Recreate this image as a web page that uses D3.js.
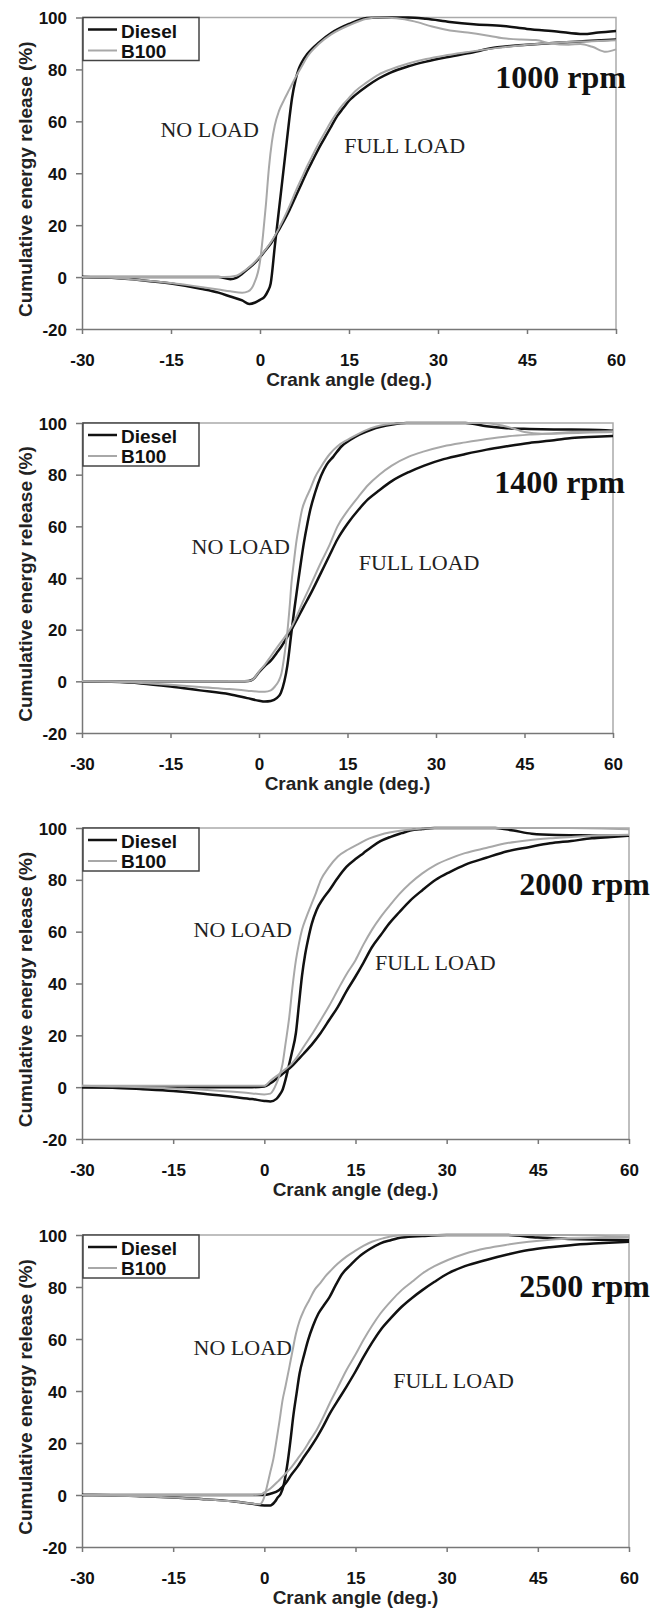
<!DOCTYPE html>
<html>
<head>
<meta charset="utf-8">
<script src="https://cdnjs.cloudflare.com/ajax/libs/d3/7.8.5/d3.min.js"></script>
<style>
    body { margin: 0; background: #fff; }
</style>
</head>
<body>
<div id="chart-area"></div>
<script>
/*
*    Cumulative energy release vs crank angle
*    Diesel vs B100, no load / full load, four engine speeds
*/

// Axis ticks and labels
var xTicks = [-30, -15, 0, 15, 30, 45, 60];
var yTicks = [-20, 0, 20, 40, 60, 80, 100];
var fuels = ["Diesel", "B100"];
var speeds = ["1000 rpm", "1400 rpm", "2000 rpm", "2500 rpm"];

// [crank angle, cumulative energy release %]
// 1000 rpm
var dieselNo1000 = [[-30,0],[-25,-0.3],[-20,-1.2],[-15,-2.5],[-10,-4.5],[-7,-6],[-5,-7.5],[-3,-9],[-1.8,-10.4],[-0.8,-9.8],[0,-8.8],[0.8,-7.5],[1.3,-5.5],[1.8,-2.5],[2.5,12],[3,22],[3.5,32],[4,42],[4.5,52],[5,62],[5.4,69],[6,76],[6.5,80],[7,82.5],[8,86],[10,90.5],[12,94],[15,97.5],[18,99.8],[20,100],[25,100],[28,99.5],[32,98.3],[36,97.4],[41,96.7],[45,95.6],[50,94.6],[54.5,93.6],[57,94.2],[60,94.8]];
var b100No1000 = [[-30,0],[-25,-0.3],[-20,-1.2],[-15,-2.3],[-10,-3.8],[-7,-4.8],[-5,-5.5],[-3,-6],[-2,-5.5],[-1,-2.5],[0,6],[0.5,16],[1,28],[1.5,42],[2,52],[2.5,58.5],[3.2,64],[4,68],[5,72.5],[6,77],[7,81],[8,85],[10,90],[12,93.5],[15,97],[18,99.5],[20,100],[23,99.7],[26,98.5],[29,96.5],[32,95],[35,94.2],[38,93.2],[41,92],[44,91.5],[46.5,91.3],[49,90],[52,89.5],[54,89.8],[56,88.7],[58.3,86.8],[60,87.7]];
var dieselFull1000 = [[-30,0],[-10,0],[-7,0],[-5,-0.8],[-4,-0.3],[-3,1.3],[-2,3.2],[-1,5.2],[0,7.7],[1,10.5],[2,13.5],[3,17.5],[4,21.5],[5,26],[6,31],[7,36],[8,41],[9,45.5],[10,50],[11,54],[12,58],[13,62],[14,65],[15,68],[16,70],[18,73.5],[20,76.5],[22,78.8],[25,81.2],[28,83],[31,84.5],[35,86.2],[40,88.5],[45,89.5],[50,90.3],[55,90.9],[60,91.5]];
var b100Full1000 = [[-30,0],[-6,0],[-4,0.5],[-3,1.8],[-2,3.5],[-1,5.5],[0,8],[1,10.8],[2,14],[3,18],[4,22.5],[5,27.5],[6,33],[7,38],[8,43],[9,47.5],[10,52],[11,56],[12,60],[13,63.5],[14,66.5],[15,69],[16,71.5],[18,75],[20,78],[22,80],[25,82.3],[28,84],[31,85.3],[35,86.7],[40,88.3],[45,89.5],[50,90.3],[55,90.8],[60,91.2]];

// 1400 rpm
var dieselNo1400 = [[-30,0],[-25,-0.2],[-20,-0.8],[-15,-2],[-10,-3.5],[-5,-5],[-2,-6.5],[0,-7.5],[1,-7.8],[2,-7.6],[3,-6.5],[3.7,-4.5],[4.3,0],[4.8,6],[5.5,19],[6,28],[6.6,38],[7.1,46],[7.6,53.5],[8.2,61],[8.7,66.5],[9.5,73],[10.5,79.5],[11.5,84],[12.6,87],[14,91],[15.5,93.5],[17,95.5],[19,97.4],[22.6,99.4],[25,100],[35,100],[38.6,98.7],[42,98],[45.8,97.7],[50,97.5],[56,97.4],[60,97]];
var b100No1400 = [[-30,0],[-25,-0.2],[-20,-0.6],[-15,-1.3],[-10,-2.2],[-5,-3],[-2,-3.6],[0,-4],[1,-4],[2,-3.5],[2.7,-2],[3.3,0],[3.8,3],[4.3,10],[4.8,19],[5.2,29],[5.5,38],[5.9,46],[6.3,53.5],[6.8,60.5],[7.3,66.5],[8,71],[8.7,74.5],[9.5,79],[10.5,83],[12,88],[13.3,91],[15,93.5],[16.2,95],[19,98],[22.6,99.7],[25,100],[38,100],[40,99.5],[43,98],[45,96.5],[48,95.8],[52,96],[56,96.3],[60,96.5]];
var dieselFull1400 = [[-30,0],[-10,0],[-3,0],[-1.8,0.1],[-1,0.8],[0,3.5],[1,6],[2,8],[3,11],[3.8,13.5],[5.5,20],[7.6,29],[9,35],[10.5,42],[12,49],[13.3,55],[15,61],[16.9,66.5],[18.5,70.5],[20.4,74],[22.5,77.5],[25.4,81],[28,83.5],[31.3,86],[35,88],[38.6,89.7],[42,91],[45.8,92.3],[50,93.3],[53,94.2],[57,94.7],[60,95]];
var b100Full1400 = [[-30,0],[-1.8,0.1],[-1,0.8],[0,3.8],[1,6.5],[2,9.7],[3.5,14.5],[5.5,21],[7.6,31.6],[9,38.5],[10.5,46],[12,53],[13.3,60],[15,66],[16.9,71.6],[18.5,76],[20.4,80],[22.5,83.5],[25.4,87],[28,89],[31.3,91],[35,92.5],[38.6,93.8],[42,94.8],[45.8,95.5],[50,96],[53,96.5],[60,96.8]];

// 2000 rpm
var dieselNo2000 = [[-30,0],[-25,-0.2],[-20,-0.8],[-15,-1.5],[-10,-2.5],[-5,-3.8],[-2,-4.6],[0,-5.3],[1,-5.5],[2,-4.5],[2.5,-3],[3,-1],[3.5,3],[4,8],[4.5,13],[5.2,21],[5.7,32],[6.2,43],[6.7,51],[7.2,57],[7.8,63],[8.6,68.4],[9.6,72.5],[10.7,76],[12,80.5],[13.5,85],[15,88],[16.3,90.3],[17.7,92.8],[19.1,94.9],[20.8,96.6],[22.6,98],[24,99],[26,99.6],[28,100],[38,100],[41,99],[44,97.8],[48,97.3],[52,97.2],[56,97],[60,97]];
var b100No2000 = [[-30,0.5],[-25,0.3],[-20,0],[-15,-0.5],[-10,-1],[-5,-1.8],[-2,-2.4],[0,-2.8],[1,-2.5],[1.5,-1],[2,1.5],[2.5,4.5],[3,9],[3.5,17],[4.1,27],[4.6,38],[5.2,49],[5.7,55.5],[6.2,60.7],[6.9,65.5],[7.6,69.7],[8.5,75],[9.3,80],[10.5,84.5],[12.1,89],[13.8,91.7],[15.6,94],[17.3,96],[19.1,97.4],[22.6,99],[26,99.8],[28,100],[50,100],[60,99.5]];
var dieselFull2000 = [[-30,0],[-10,0],[-2,0],[0,0.3],[1,1.5],[2.4,4],[3.5,6],[4.5,8],[5.5,10.5],[6.5,13],[8,17],[9.3,21],[10.7,26],[12.1,31],[13.5,37],[15,42.7],[16.3,48],[17.7,54],[19.1,58.5],[20.5,63],[22.2,67.5],[24,72],[26,76],[28.2,80],[30.5,83],[33,85.8],[36.5,88.5],[40,91],[43.5,92.6],[47,94.1],[50.5,95],[53.9,96],[57,96.5],[60,97]];
var b100Full2000 = [[-30,0.5],[-2,0.5],[0,0.5],[1,2.5],[2.4,5],[3.5,7],[4.5,9],[5.5,12],[6.5,15.7],[8,21],[9.3,26],[10.7,31.5],[12.1,37.6],[13.5,43.5],[15,49],[16.3,55],[17.7,60.7],[19.1,65.5],[20.5,69.7],[22.2,74.5],[24,78.7],[26,82.5],[28.2,85.8],[30.5,88.2],[33,90.3],[36.5,92.3],[40,94.2],[43.5,95.3],[47,96],[50.5,96.5],[53.9,97],[60,97.4]];

// 2500 rpm
var dieselNo2500 = [[-30,0],[-25,-0.1],[-20,-0.5],[-15,-1],[-10,-1.6],[-5,-2.5],[-2,-3.4],[0,-4],[1,-4],[1.7,-2.7],[2.2,-1],[2.7,0.5],[3.2,4],[3.8,12],[4.3,21],[4.8,31],[5.3,39],[5.8,46.7],[6.5,53.5],[7.2,59.6],[8,65],[8.9,69.8],[9.8,73],[10.7,76],[11.7,80.5],[12.8,85],[14.2,88.5],[15.6,91.7],[17.3,94.5],[19.1,96.8],[20.8,98],[22.6,99],[26,99.6],[30,100],[40,100],[45,99],[50,98.5],[55,98.2],[60,98]];
var b100No2500 = [[-30,0],[-25,-0.2],[-20,-0.5],[-15,-1],[-10,-1.6],[-5,-2.5],[-2,-3.3],[-0.8,-3.6],[-0.2,-2],[0.3,2],[0.7,6],[1,9],[1.5,14],[2,21],[2.5,28.5],[3,36.5],[3.5,42],[4.1,49],[4.6,55],[5.2,62],[5.8,67],[6.5,71],[7.4,75],[8.3,79],[9.2,81.5],[10,84],[11,86.5],[12.1,89],[13.5,91.7],[15,94],[16.3,95.8],[17.7,97.4],[19.5,98.7],[21.2,99.6],[24,100],[50,100],[60,99.2]];
var dieselFull2500 = [[-30,0],[-2,0],[0,0],[1,0.5],[2.4,1.8],[3.5,4.5],[4.5,8],[5.5,11],[6.5,14.6],[7.5,18],[8.6,22],[9.7,26.5],[10.7,31],[12,36],[13.5,41.6],[15,47.5],[16.3,53],[17.7,58.5],[19.1,63.4],[20.8,68],[22.6,72.4],[24.3,75.8],[26,78.8],[28,82],[30.2,85.2],[33,88],[36.5,90.4],[40,92.5],[43.5,94.2],[47,95.3],[50.4,96.1],[55,96.8],[60,97.4]];
var b100Full2500 = [[-30,0],[-2,0],[-0.5,0.3],[0,1],[1,2.5],[2.4,5.6],[3.5,8.2],[4.5,10.8],[5.5,14],[6.5,17.2],[7.5,21],[8.6,25],[9.7,30],[10.7,35],[12,41],[13.5,48],[15,54],[16.3,59.6],[17.7,65],[19.1,69.8],[20.8,74.5],[22.6,78.8],[24.3,82],[26,85.2],[28,88],[30.2,90.4],[33,92.8],[36.5,94.9],[40,96.3],[43.5,97.4],[47,98.2],[50.4,98.7],[55,98.9],[60,99]];

// Panel layout (pixels) and where the load labels sit (data coords)
var panels = [
    { top: 17.5, bottom: 329, right: 616, rpmDx: 10, rpmDy: 70, noAt: [-0.2, 54],  fullAt: [14.2, 47.8],
      series: [dieselNo1000, dieselFull1000, b100No1000, b100Full1000] },
    { top: 423,  bottom: 733, right: 613, rpmDx: 12, rpmDy: 70, noAt: [5.25, 49.3], fullAt: [16.9, 43.1],
      series: [dieselNo1400, dieselFull1400, b100No1400, b100Full1400] },
    { top: 828,  bottom: 1139, right: 629, rpmDx: 21, rpmDy: 67, noAt: [4.55, 58],  fullAt: [18.2, 45.2],
      series: [dieselNo2000, dieselFull2000, b100No2000, b100Full2000] },
    { top: 1235, bottom: 1547, right: 629, rpmDx: 21, rpmDy: 62, noAt: [4.55, 53.8], fullAt: [21.2, 41.2],
      series: [dieselNo2500, dieselFull2500, b100No2500, b100Full2500] }
];

var left = 82;
var lineColors = ["#111", "#111", "#a8a8a8", "#a8a8a8"];
var lineWidths = [2.5, 2.5, 2, 2];
var sansFont = "'Liberation Sans', Arial, sans-serif";
var serifFont = "'Liberation Serif', 'Times New Roman', serif";

var svg = d3.select("#chart-area")
    .append("svg")
        .attr("width", 663)
        .attr("height", 1610);

panels.forEach(function(p, i) {
    var g = svg.append("g");

    var x = d3.scaleLinear()
        .domain([-30, 60])
        .range([left, p.right]);

    var y = d3.scaleLinear()
        .domain([-20, 100])
        .range([p.bottom, p.top]);

    // Top and right border
    g.append("path")
        .attr("d", "M" + left + "," + y(100) + "H" + x(60) + "V" + y(-20))
        .attr("fill", "none")
        .attr("stroke", "#aaa")
        .attr("stroke-width", 1.5);

    // X Axis (plain hyphen for negatives)
    var xAxisCall = d3.axisBottom(x)
        .tickValues(xTicks)
        .tickFormat(function(d) { return String(d); })
        .tickSize(5)
        .tickSizeOuter(0);
    var xAxisGroup = g.append("g")
        .attr("transform", "translate(0," + p.bottom + ")")
        .call(xAxisCall);

    // Y Axis
    var yAxisCall = d3.axisLeft(y)
        .tickValues(yTicks)
        .tickFormat(function(d) { return String(d); })
        .tickSize(6)
        .tickSizeOuter(0);
    var yAxisGroup = g.append("g")
        .attr("transform", "translate(" + left + ",0)")
        .call(yAxisCall);

    [xAxisGroup, yAxisGroup].forEach(function(ax) {
        ax.select(".domain").attr("stroke", "#777").attr("stroke-width", 1.5);
        ax.selectAll(".tick line").attr("stroke", "#777").attr("stroke-width", 1.5);
        ax.selectAll("text")
            .attr("font-family", sansFont)
            .attr("font-weight", "bold")
            .attr("font-size", "17px")
            .attr("fill", "#111");
    });
    xAxisGroup.selectAll("text").attr("y", 37).attr("dy", 0);
    yAxisGroup.selectAll("text").attr("x", -15).attr("dy", "0.36em");

    // X Label
    g.append("text")
        .attr("x", (left + p.right) / 2)
        .attr("y", p.bottom + 57)
        .attr("text-anchor", "middle")
        .attr("font-family", sansFont)
        .attr("font-weight", "bold")
        .attr("font-size", "19px")
        .attr("fill", "#222")
        .text("Crank angle (deg.)");

    // Y Label
    g.append("text")
        .attr("transform", "translate(32," + ((p.top + p.bottom) / 2 + 6) + ") rotate(-90)")
        .attr("text-anchor", "middle")
        .attr("font-family", sansFont)
        .attr("font-weight", "bold")
        .attr("font-size", "19px")
        .attr("fill", "#222")
        .text("Cumulative energy release (%)");

    // Curves
    var line = d3.line()
        .x(function(d) { return x(d[0]); })
        .y(function(d) { return y(d[1]); })
        .curve(d3.curveMonotoneX);

    p.series.forEach(function(s, j) {
        g.append("path")
            .datum(s)
            .attr("d", line)
            .attr("fill", "none")
            .attr("stroke", lineColors[j])
            .attr("stroke-width", lineWidths[j])
            .attr("stroke-linejoin", "round");
    });

    // Legend
    var legend = g.append("g")
        .attr("transform", "translate(" + (left + 1) + "," + p.top + ")");
    legend.append("rect")
        .attr("width", 116)
        .attr("height", 43)
        .attr("fill", "#fff")
        .attr("stroke", "#444")
        .attr("stroke-width", 1.5);
    fuels.forEach(function(f, k) {
        legend.append("line")
            .attr("x1", 5).attr("x2", 34)
            .attr("y1", 12 + k * 21).attr("y2", 12 + k * 21)
            .attr("stroke", k === 0 ? "#111" : "#a8a8a8")
            .attr("stroke-width", k === 0 ? 2.5 : 2);
        legend.append("text")
            .attr("x", 38)
            .attr("y", 20 + k * 20)
            .attr("font-family", sansFont)
            .attr("font-weight", "bold")
            .attr("font-size", "19px")
            .attr("fill", "#111")
            .text(f);
    });

    // Speed label
    g.append("text")
        .attr("x", p.right + p.rpmDx)
        .attr("y", p.top + p.rpmDy)
        .attr("text-anchor", "end")
        .attr("font-family", serifFont)
        .attr("font-weight", "bold")
        .attr("font-size", "32px")
        .attr("fill", "#111")
        .text(speeds[i]);

    // Load labels
    g.append("text")
        .attr("x", x(p.noAt[0]))
        .attr("y", y(p.noAt[1]))
        .attr("text-anchor", "end")
        .attr("font-family", serifFont)
        .attr("font-size", "22px")
        .attr("fill", "#222")
        .text("NO LOAD");

    g.append("text")
        .attr("x", x(p.fullAt[0]))
        .attr("y", y(p.fullAt[1]))
        .attr("font-family", serifFont)
        .attr("font-size", "22px")
        .attr("fill", "#222")
        .text("FULL LOAD");
});
</script>
</body>
</html>
